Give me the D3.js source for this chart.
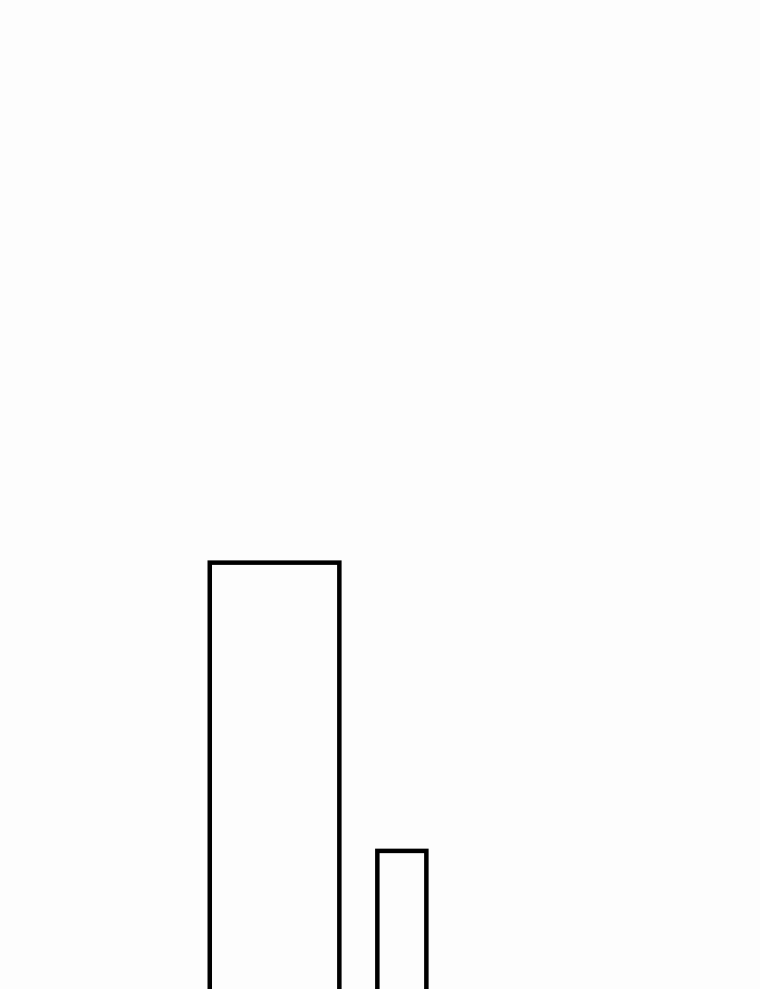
<!DOCTYPE html>
<html>
<head>
<meta charset="utf-8">
<script src="https://cdn.jsdelivr.net/npm/d3@7"></script>
<style>
  body { margin: 0; background: #fdfdfd; overflow: hidden; }
</style>
</head>
<body>
<svg id="chart"></svg>
<script>
// bars: left/right edges in x units, heights in y units
const categories = ['A', 'B']
const barStart = [5.52, 9.93]
const barEnd = [8.93, 11.22]
const values = [44, 15]

const width = 760
const height = 989

const svg = d3.select('#chart')
    .attr('width', width)
    .attr('height', height)

svg.append('rect')
    .attr('width', width)
    .attr('height', height)
    .attr('fill', '#fdfdfd')

const xScale = d3.scaleLinear()
    .domain([0, 20])
    .range([0, width])

// baseline sits below the visible area
const yScale = d3.scaleLinear()
    .domain([0, 50])
    .range([1000, 503])

const data = categories.map((c, i) => ({
    cat: c, x0: barStart[i], x1: barEnd[i], v: values[i]
}))

svg.selectAll('rect.bar').data(data)
    .enter().append('rect')
        .attr('class', 'bar')
        .attr('x', d => xScale(d.x0))
        .attr('width', d => xScale(d.x1) - xScale(d.x0))
        .attr('y', d => yScale(d.v))
        .attr('height', d => yScale(0) - yScale(d.v) + 20)
        .attr('fill', 'none')
        .attr('stroke', '#000')
        .attr('stroke-width', 4.5)
</script>
</body>
</html>
